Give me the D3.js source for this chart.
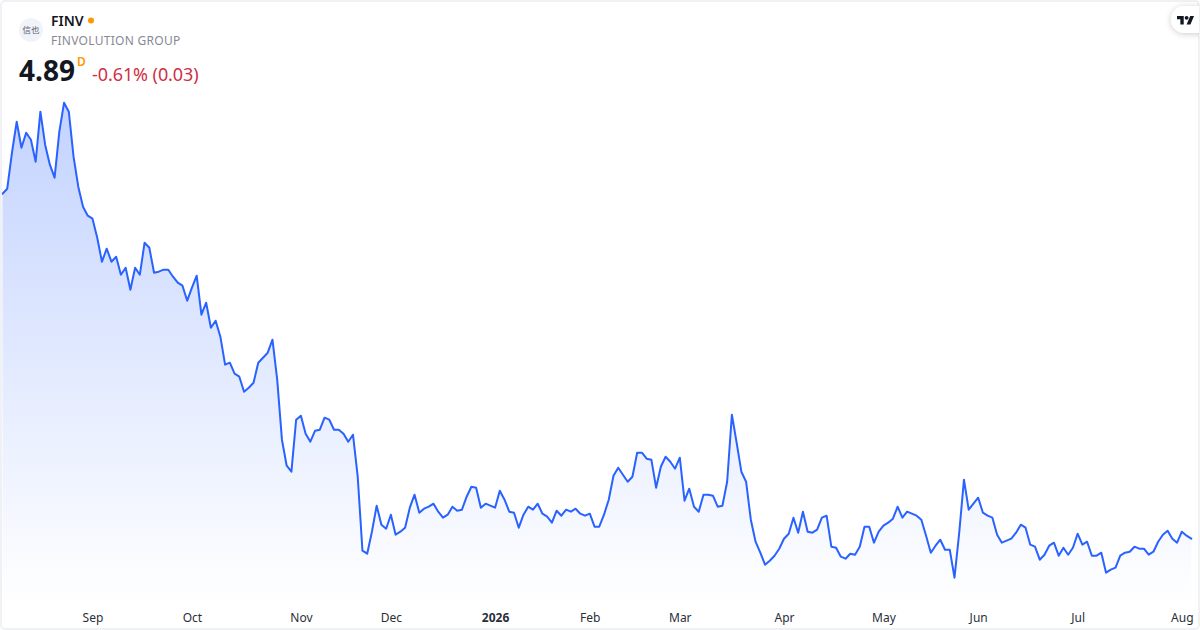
<!DOCTYPE html>
<html>
<head>
<meta charset="utf-8">
<script src="https://cdn.jsdelivr.net/npm/d3@7/dist/d3.min.js"></script>
<style>
html,body{margin:0;padding:0;background:#fff;overflow:hidden}
svg{display:block;font-family:"Noto Sans","Open Sans",sans-serif}
</style>
</head>
<body>
<svg id="chart" width="1200" height="630"></svg>
<script>
const closes = [
8.34,8.39,8.75,9.06,8.80,8.95,8.88,8.66,9.16,8.83,8.63,8.50,8.96,9.25,9.16,8.71,8.41,8.21,8.12,8.09,
7.90,7.66,7.79,7.66,7.71,7.53,7.60,7.38,7.60,7.53,7.85,7.80,7.55,7.56,7.58,7.58,7.51,7.45,7.42,7.27,
7.40,7.52,7.13,7.25,7.00,7.07,6.91,6.63,6.65,6.54,6.51,6.36,6.40,6.45,6.65,6.70,6.75,6.88,6.48,5.88,
5.62,5.56,6.08,6.12,5.94,5.86,5.97,5.98,6.10,6.08,5.98,5.98,5.94,5.86,5.93,5.51,4.77,4.74,4.96,5.22,
5.03,4.99,5.13,4.93,4.96,5.00,5.20,5.33,5.15,5.19,5.21,5.24,5.16,5.10,5.13,5.21,5.17,5.18,5.31,5.41,
5.40,5.20,5.24,5.22,5.20,5.37,5.28,5.16,5.15,5.00,5.13,5.21,5.18,5.24,5.14,5.11,5.05,5.17,5.12,5.18,
5.16,5.19,5.14,5.12,5.14,5.01,5.01,5.13,5.28,5.52,5.60,5.53,5.46,5.51,5.75,5.75,5.69,5.68,5.40,5.61,
5.71,5.66,5.59,5.70,5.27,5.39,5.21,5.16,5.33,5.33,5.32,5.21,5.22,5.46,6.13,5.85,5.56,5.46,5.08,4.86,
4.75,4.63,4.67,4.72,4.79,4.89,4.94,5.10,4.95,5.16,4.96,4.95,4.98,5.10,5.12,4.81,4.80,4.71,4.69,4.74,
4.73,4.81,5.01,5.01,4.85,4.96,5.02,5.05,5.09,5.21,5.10,5.16,5.14,5.12,5.08,4.92,4.75,4.82,4.88,4.78,
4.78,4.50,4.95,5.48,5.18,5.24,5.30,5.15,5.12,5.10,4.93,4.85,4.87,4.89,4.95,5.03,5.00,4.83,4.81,4.68,
4.73,4.82,4.85,4.72,4.80,4.73,4.80,4.94,4.83,4.86,4.72,4.72,4.75,4.55,4.58,4.60,4.72,4.75,4.76,4.81,
4.79,4.79,4.73,4.76,4.86,4.93,4.97,4.89,4.85,4.96,4.92,4.89];
const tickIndex = [19,40,63,82,104,124,143,165,186,206,227,249];
const tickLabels = ["Sep","Oct","Nov","Dec","2026","Feb","Mar","Apr","May","Jun","Jul","Aug"];
const boldTicks = ["2026"];
const symbol = "FINV";
const company = "FINVOLUTION GROUP";
const lastPrice = "4.89";
const interval = "D";
const changeText = "-0.61% (0.03)";

const svg = d3.select("#chart");
const x = d3.scaleLinear().domain([0, closes.length - 1]).range([2.5, 1191.3]);
const y = d3.scaleLinear().domain([4.2, 9.65]).range([607.7, 62.7]);

const defs = svg.append("defs");
const grad = defs.append("linearGradient").attr("id","fill").attr("gradientUnits","userSpaceOnUse")
  .attr("x1",0).attr("x2",0).attr("y1",y(d3.max(closes))).attr("y2",605);
grad.append("stop").attr("offset",0).attr("stop-color","#2962ff").attr("stop-opacity",0.28);
grad.append("stop").attr("offset",1).attr("stop-color","#2962ff").attr("stop-opacity",0);
const f = defs.append("filter").attr("id","sh").attr("x","-50%").attr("y","-50%").attr("width","200%").attr("height","200%");
f.append("feDropShadow").attr("dx",0).attr("dy",1).attr("stdDeviation",3).attr("flood-color","#000").attr("flood-opacity",0.2);

const area = d3.area().x((d,i)=>x(i)).y0(605).y1(d=>y(d));
const line = d3.line().x((d,i)=>x(i)).y(d=>y(d));
svg.append("path").datum(closes).attr("d",area).attr("fill","url(#fill)");
svg.append("path").datum(closes).attr("d",line).attr("fill","none")
  .attr("stroke","#2962ff").attr("stroke-width",2).attr("stroke-linejoin","round").attr("stroke-linecap","round");

const axis = d3.axisBottom(x).tickValues(tickIndex).tickSize(0).tickPadding(0)
  .tickFormat((d,i)=>tickLabels[i]);
const ax = svg.append("g").attr("transform","translate(0,613)").call(axis);
ax.select(".domain").remove();
ax.selectAll("text").attr("font-size",12).attr("font-family",'"Noto Sans","Open Sans",sans-serif')
  .attr("fill","#2a2e39").attr("font-weight",d=>boldTicks.includes(tickLabels[tickIndex.indexOf(d)])?700:400);

// header
svg.append("circle").attr("cx",31).attr("cy",30).attr("r",12).attr("fill","#f0f3fa");
svg.append("text").attr("x",31).attr("y",33).attr("text-anchor","middle").attr("font-size",8.5)
  .attr("font-family",'"Noto Sans CJK SC"').attr("fill","#5d606b").text("信也");
svg.append("text").attr("x",51).attr("y",26).attr("font-size",14).attr("font-weight",600).attr("fill","#131722").text(symbol);
svg.append("circle").attr("cx",91).attr("cy",20.5).attr("r",3).attr("fill","#ff9800");
svg.append("text").attr("x",51).attr("y",45).attr("font-size",12).attr("letter-spacing",0.28).attr("fill","#868993").text(company);
svg.append("text").attr("x",19).attr("y",81).attr("font-size",28).attr("font-weight",700).attr("fill","#131722").text(lastPrice);
svg.append("text").attr("x",77).attr("y",66).attr("font-size",12).attr("font-weight",600).attr("fill","#ff9800").text(interval);
svg.append("text").attr("x",92).attr("y",81).attr("font-size",18).attr("letter-spacing",-0.08).attr("fill","#cf2f44").text(changeText);

// frame and badge
svg.append("rect").attr("x",1).attr("y",1).attr("width",1198).attr("height",628).attr("rx",4)
  .attr("fill","none").attr("stroke","#f0f1f4").attr("stroke-width",2);
const clip = defs.append("clipPath").attr("id","cl");
clip.append("rect").attr("width",1199).attr("height",629).attr("x",0).attr("y",0);
svg.append("g").attr("clip-path","url(#cl)").append("rect").attr("x",1171).attr("y",6).attr("width",50).attr("height",27).attr("rx",13.5)
  .attr("fill","#fff").attr("filter","url(#sh)");
svg.append("path").attr("transform","translate(1177,14) scale(0.48)")
  .attr("d","M14 22H7V11H0V4h14v18zM28 22h-8l7.5-18h8L28 22z").attr("fill","#131722");
svg.append("circle").attr("transform","translate(1177,14) scale(0.48)").attr("cx",20).attr("cy",8).attr("r",4).attr("fill","#131722");
</script>
</body>
</html>
